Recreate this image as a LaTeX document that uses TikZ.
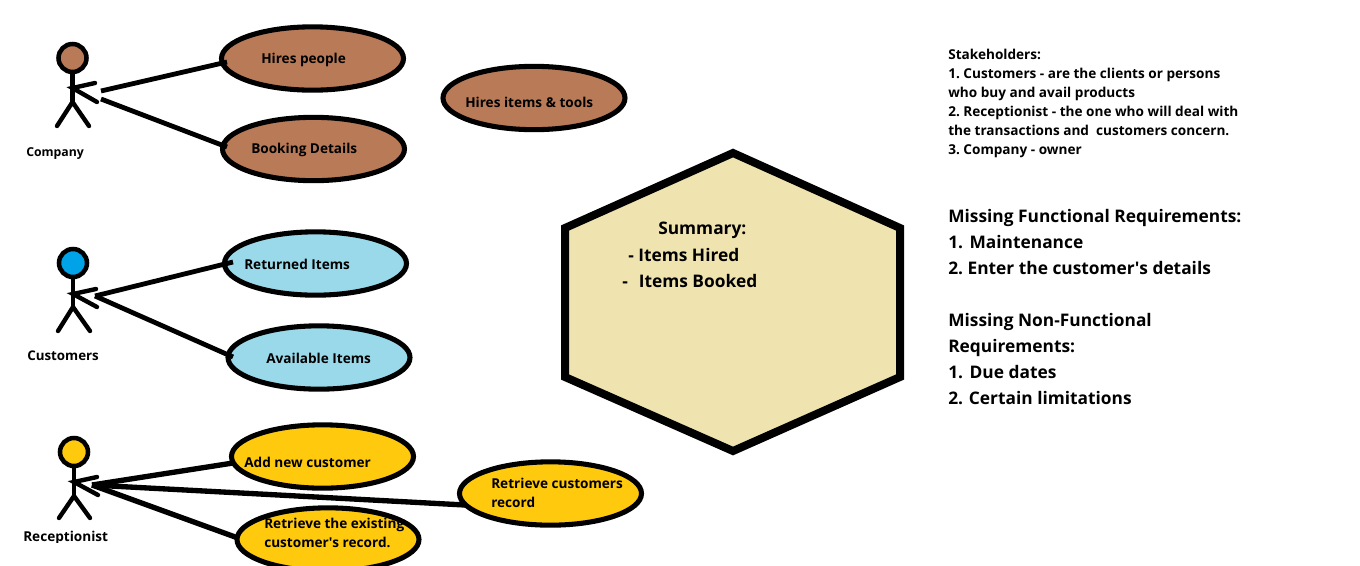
\documentclass[tikz,border=0pt]{standalone}
\usepackage{fontspec}
\setmainfont{Open Sans}
\usetikzlibrary{shapes.geometric}
\definecolor{brownfill}{HTML}{B97A57}
\definecolor{bluefill}{HTML}{99D9EA}
\definecolor{bluehead}{HTML}{00A2E8}
\definecolor{goldfill}{HTML}{FFC90E}
\definecolor{hexfill}{HTML}{EFE4B0}
\tikzset{
  usecase/.style={ellipse,draw=black,line width=3.8pt,inner sep=0pt,minimum width=136.5pt,minimum height=47.5pt},
  head/.style={circle,draw=black,line width=3.4pt,inner sep=0pt,minimum size=21pt},
  limb/.style={draw=black,line width=3.3pt,line cap=round},
  link/.style={draw=black,line width=3.6pt},
  smalltxt/.style={anchor=base west,inner sep=0pt,font=\fontsize{10.2pt}{12pt}\selectfont\bfseries},
  bigtxt/.style={anchor=base west,inner sep=0pt,font=\fontsize{13pt}{16pt}\selectfont\bfseries}
}
\frenchspacing
\begin{document}
\begin{tikzpicture}[x=0.75pt,y=-0.75pt]
\useasboundingbox (0,0) rectangle (1360,565);
\clip (0,0) rectangle (1360,565);
\fill[white] (0,0) rectangle (1360,565);

% company
\node[usecase,fill=brownfill] (hp) at (312.5,58.5) {};
\node[usecase,fill=brownfill] (bd) at (313.5,149) {};
\node[usecase,fill=brownfill] (hi) at (534,98) {};
\node[head,fill=brownfill] (h1) at (72.5,58) {};
\coordinate (n1) at (72.5,88);
\coordinate (w1) at (72.5,102);
\draw[limb] (h1) -- (w1);
\coordinate (a1) at (95,83);
\coordinate (b1) at (97,102);
\coordinate (l1) at (57,126);
\coordinate (r1) at (89,126);
\draw[limb] (a1) -- (n1) -- (b1);
\draw[limb] (l1) -- (w1) -- (r1);
\coordinate (c1a) at (101,91);
\coordinate (c1b) at (101,99);
\coordinate (e1a) at (227,62);
\coordinate (e1b) at (227,147);
\draw[link] (c1a) -- (e1a);
\draw[link] (c1b) -- (e1b);

% customers
\node[usecase,fill=bluefill] (ri) at (315.5,263.5) {};
\node[usecase,fill=bluefill] (ai) at (319,357.5) {};
\node[head,fill=bluehead] (h2) at (73,263) {};
\coordinate (n2) at (73,294);
\coordinate (w2) at (73,307);
\draw[limb] (h2) -- (w2);
\coordinate (a2) at (96,289);
\coordinate (b2) at (97,307);
\coordinate (l2) at (58,331);
\coordinate (r2) at (90,331);
\draw[limb] (a2) -- (n2) -- (b2);
\draw[limb] (l2) -- (w2) -- (r2);
\coordinate (c2) at (95,296);
\coordinate (e2a) at (233,262);
\coordinate (e2b) at (233,357);
\draw[link] (c2) -- (e2a);
\draw[link] (c2) -- (e2b);

% receptionist
\node[usecase,fill=goldfill] (an) at (322.5,456.5) {};
\node[usecase,fill=goldfill] (rc) at (550.5,493.5) {};
\node[usecase,fill=goldfill] (re) at (328,539.5) {};
\node[head,fill=goldfill] (h3) at (74,452) {};
\coordinate (n3) at (74,482);
\coordinate (w3) at (74,496);
\draw[limb] (h3) -- (w3);
\coordinate (a3) at (97,477);
\coordinate (b3) at (98,495);
\coordinate (l3) at (59,518);
\coordinate (r3) at (90,518);
\draw[limb] (a3) -- (n3) -- (b3);
\draw[limb] (l3) -- (w3) -- (r3);
\coordinate (c3) at (92,485);
\coordinate (e3a) at (233,463);
\coordinate (e3b) at (465,505);
\coordinate (e3c) at (238,538);
\draw[link,line width=4pt] (c3) -- (e3a);
\draw[link,line width=4pt] (c3) -- (e3b);
\draw[link,line width=4pt] (c3) -- (e3c);

% hexagon
\draw[fill=hexfill,draw=black,line width=6pt,miter limit=10]
  (733,153) -- (900,228) -- (900,377) -- (733,451) -- (565,377) -- (565,228) -- cycle;

% labels
\node[smalltxt] (tc1) at (26,156) {\fontsize{9.2pt}{11pt}\selectfont Company};
\node[smalltxt] (tc2) at (27,360) {\fontsize{10pt}{12pt}\selectfont Customers};
\begin{scope}
\clip (0,525) rectangle (200,542);
\node[smalltxt] (tc3) at (23,541.5) {Receptionist};
\end{scope}

\node[smalltxt] (t1) at (261,63) {Hires people};
\node[smalltxt] (t2) at (251,153) {Booking Details};
\node[smalltxt] (t3) at (465,107) {Hires items \& tools};
\node[smalltxt] (t4) at (244,269) {Returned Items};
\node[smalltxt] (t5) at (266,363) {Available Items};
\node[smalltxt] (t6) at (244,467) {Add new customer};
\node[smalltxt] (t7) at (491,488) {Retrieve customers};
\node[smalltxt] (t8) at (491,507) {record};
\node[smalltxt] (t9) at (264,528) {Retrieve the existing};
\node[smalltxt] (t10) at (264,547) {customer\textquotesingle s record.};

\node[bigtxt] (s1) at (658,234) {Summary:};
\node[bigtxt] (s2) at (628,261) {- Items Hired};
\node[bigtxt] (s3) at (622,287) {-\ \ \kern1.5pt Items Booked};

\node[smalltxt] (k1) at (948,59) {Stakeholders:};
\node[smalltxt] (k2) at (948,78) {1. Customers - are the clients or persons};
\node[smalltxt] (k3) at (948,97) {who buy and avail products};
\node[smalltxt] (k4) at (948,116) {2. Receptionist - the one who will deal with};
\node[smalltxt] (k5) at (948,135) {the transactions and\ \ customers concern.};
\node[smalltxt] (k6) at (948,154) {3. Company - owner};

\node[bigtxt] (m1) at (948,222) {Missing Functional Requirements:};
\node[bigtxt] (m2) at (948,248) {1.\kern1.5pt{} Maintenance};
\node[bigtxt] (m3) at (948,274) {2. Enter the customer\textquotesingle s details};
\node[bigtxt] (m4) at (948,326) {Missing Non-Functional};
\node[bigtxt] (m5) at (948,352) {Requirements:};
\node[bigtxt] (m6) at (948,378) {1.\kern1.5pt{} Due dates};
\node[bigtxt] (m7) at (948,404) {2.\kern1pt{} Certain limitations};
\end{tikzpicture}
\end{document}
